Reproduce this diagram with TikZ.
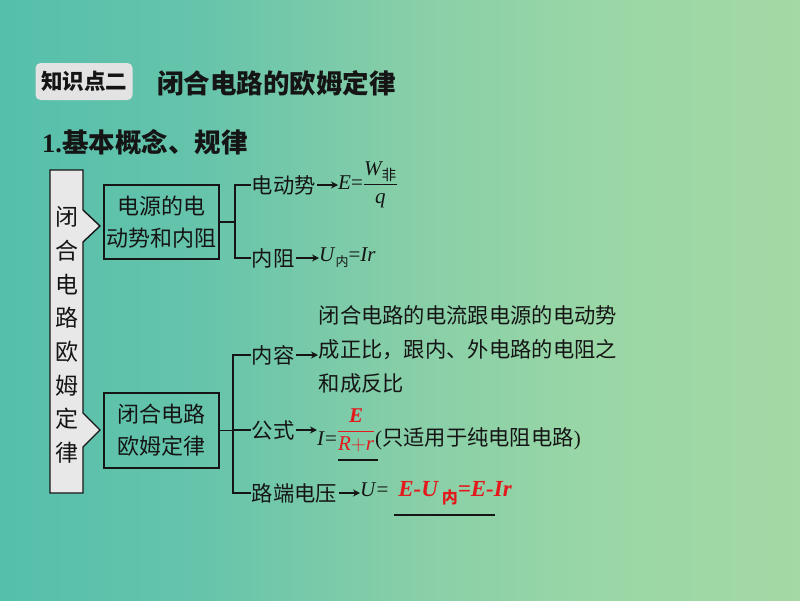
\documentclass[tikz,border=0pt]{standalone}
\usepackage{fontspec}
\usepackage{amsmath}
\setmainfont{Liberation Serif}
\newfontfamily\cjk{Noto Sans CJK SC}
\newfontfamily\tms{Liberation Serif}
\usetikzlibrary{arrows.meta}
\definecolor{bgA}{HTML}{55BFAC}
\definecolor{bgB}{HTML}{66C4AB}
\definecolor{bgC}{HTML}{86CEA8}
\definecolor{bgD}{HTML}{9AD7A6}
\definecolor{bgE}{HTML}{A4D8A5}
\definecolor{boxgray}{HTML}{E3E3E3}
\definecolor{vgray}{HTML}{E8E8E8}
\definecolor{fred}{HTML}{E3191C}
\definecolor{ink}{HTML}{151515}
\begin{document}
\begin{tikzpicture}[x=1pt,y=-1pt,
  lbl/.style={anchor=west, inner sep=0.5pt, font=\cjk\fontsize{21.3}{24}\selectfont, text=ink},
  frm/.style={anchor=west, inner sep=0pt, font=\tms\fontsize{21}{24}\selectfont, text=ink},
  cbox/.style={draw=ink, line width=1.6pt, minimum width=115pt, inner sep=0pt, align=center, font=\cjk\fontsize{22}{32}\selectfont, text=ink},
  wire/.style={draw=ink, line width=1.7pt},
  arr/.style={draw=ink, line width=1.3pt, -{Stealth[length=7pt,width=7pt]}, shorten <=1pt},
]
% background
\shade[left color=bgA, right color=bgB] (0,0) rectangle (201,600);
\shade[left color=bgB, right color=bgC] (200,0) rectangle (401,600);
\shade[left color=bgC, right color=bgD] (400,0) rectangle (601,600);
\shade[left color=bgD, right color=bgE] (600,0) rectangle (800,600);
\useasboundingbox (0,0) rectangle (800,600);

% headings
\node[fill=boxgray, rounded corners=5pt, minimum width=97pt, minimum height=37pt, inner sep=0pt,
      font=\cjk\bfseries\fontsize{21.5}{24}\selectfont, text=ink] (kp) at (84,81.5) {知识点二};
\node[anchor=west, inner sep=0pt, font=\cjk\bfseries\fontsize{26.5}{30}\selectfont, text=ink] (ttl) at (157,83) {闭合电路的欧姆定律};
\node[anchor=west, inner sep=0pt, font=\cjk\bfseries\fontsize{26.5}{30}\selectfont, text=ink] (sub) at (42,142) {{\tms\bfseries 1.}基本概念、规律};

% vertical box
\draw[draw=ink, line width=1.4pt, fill=vgray] (50,170) -- (83,170) -- (83,210) -- (100,226) -- (83,242)
   -- (83,413) -- (100,430) -- (83,447) -- (83,493) -- (50,493) -- cycle;
\node[align=center, inner sep=0pt, font=\cjk\fontsize{23}{33.7}\selectfont, text=ink] (vt) at (66.5,335)
   {闭\\合\\电\\路\\欧\\姆\\定\\律};

% boxes
\node[cbox, minimum height=74pt] (b1) at (161.5,222) {电源的电\\动势和内阻};
\node[cbox, minimum height=75pt] (b2) at (161.5,430.5) {闭合电路\\欧姆定律};

% branch 1
\node[lbl] (emf) at (251,185) {电动势};
\node[frm] (ef) at (338,185) {\textit{E}=$\dfrac{\textit{W}_{\text{\cjk 非}}}{\textit{q}}$};
\node[lbl] (ir) at (251,258) {内阻};
\node[frm] (irf) at (319,258) {\textit{U}\raisebox{-5pt}{\cjk\fontsize{13}{13}\selectfont 内}=\textit{Ir}};
\coordinate (j1) at (235,222);
\draw[wire] (b1.east) -- (j1);
\draw[wire] (emf.west) -| (j1) |- (ir.west);
\draw[arr] (emf.east) -- (emf.east -| ef.west);
\draw[arr] (ir.east) -- (ir.east -| irf.west);

% branch 2
\node[lbl] (nr) at (251,355) {内容};
\node[lbl, align=left, font=\cjk\fontsize{21.3}{34}\selectfont] (para) at (318,349)
   {闭合电路的电流跟电源的电动势\\成正比，跟内、外电路的电阻之\\和成反比};
\node[lbl] (gs) at (251,430) {公式};
\node[frm] (gsf) at (317,430) {\textit{I}=\raisebox{9pt}{\color{fred}$\dfrac{\textbf{\textit{E}}}{\textit{R}{+}\textit{r}}$}{\tms(}{\cjk\fontsize{21.3}{24}\selectfont 只适用于纯电阻电路}{\tms)}};
\node[lbl] (ld) at (251,493) {路端电压};
\node[frm] (ldf) at (360,493) {\textit{U}=\hspace{10pt}{\color{fred}\fontsize{23}{24}\selectfont\bfseries\itshape E-U\,\raisebox{-7pt}{\cjk\upshape\bfseries\fontsize{16}{16}\selectfont 内}=E-Ir}};
\coordinate (j2) at (233,430.5);
\draw[wire] (b2.east) -- (j2);
\draw[wire] (nr.west) -| (j2) |- (ld.west);
\draw[wire] (gs.west -| j2) -- (gs.west);
\draw[arr] (nr.east) -- (nr.east -| para.west);
\draw[arr] (gs.east) -- (gs.east -| gsf.west);
\draw[arr] (ld.east) -- (ld.east -| ldf.west);

% answer underlines
\coordinate (u1a) at (338,460);
\coordinate (u1b) at (378,460);
\coordinate (u2a) at (394,515);
\coordinate (u2b) at (495,515);
\draw[wire] (u1a) -- (u1b);
\draw[wire] (u2a) -- (u2b);
\end{tikzpicture}
\end{document}
